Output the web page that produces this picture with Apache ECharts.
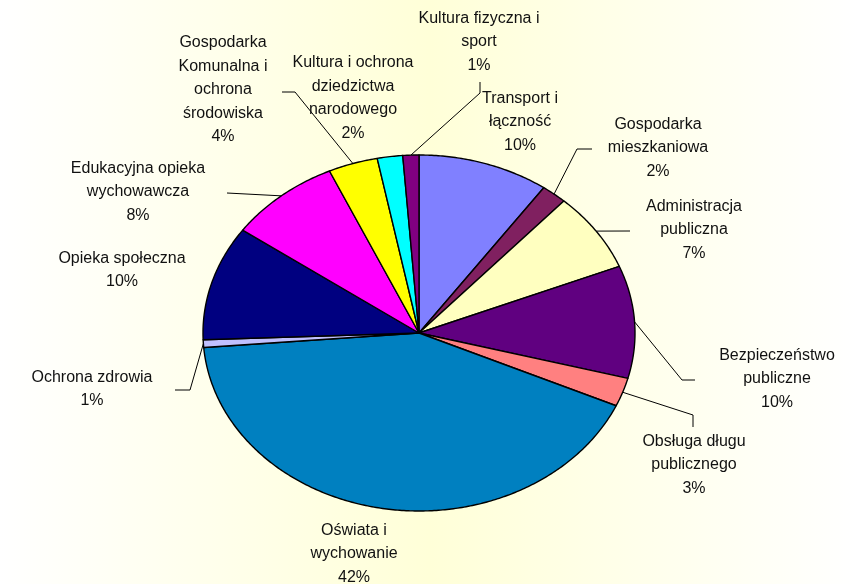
<!DOCTYPE html>
<html>
<head>
<meta charset="utf-8">
<script src="https://cdn.jsdelivr.net/npm/echarts@6/dist/echarts.min.js"></script>
<style>
  html, body { margin: 0; padding: 0; }
  #chart { width: 858px; height: 584px; }
</style>
</head>
<body>
<div id="chart"></div>
<script>
// kategorie wydatków (kolejność jak w wykresie, od godziny 12 zgodnie z ruchem wskazówek)
var categories = [
  'Transport i\nłączność',
  'Gospodarka\nmieszkaniowa',
  'Administracja\npubliczna',
  'Bezpieczeństwo\npubliczne',
  'Obsługa długu\npublicznego',
  'Oświata i\nwychowanie',
  'Ochrona zdrowia',
  'Opieka społeczna',
  'Edukacyjna opieka\nwychowawcza',
  'Gospodarka\nKomunalna i\nochrona\nśrodowiska',
  'Kultura i ochrona\ndziedzictwa\nnarodowego',
  'Kultura fizyczna i\nsport'
];
// udział w %
var values = [9.8, 1.9, 7.2, 10.2, 2.6, 42.0, 0.7, 10.4, 8.4, 3.7, 1.9, 1.2];
var colors = ['#8080FF', '#802060', '#FFFFC0', '#600080', '#FF8080', '#0080C0',
  '#C0C0FF', '#000080', '#FF00FF', '#FFFF00', '#00FFFF', '#800080'];

// układ: środek i półosie elipsy
var CX = 419, CY = 333, RX = 216, RY = 178;
// środki bloków etykiet
var labelPos = [
  [520, 122], [658, 148], [694, 230], [777, 379], [694, 465], [354, 554],
  [92, 389], [122, 270], [138, 192], [223, 90], [353, 98], [479, 42]
];
// załamania linii odniesienia (null = brak linii)
var leaderPts = [
  null, [[577, 149], [592, 149]], [[630, 231]], [[682, 380], [695, 380]],
  [[693, 415], [693, 427]], null, [[190, 390], [175, 390]], null,
  [[227, 193]], [[295, 92], [282, 92]], null, [[480, 93], [480, 82]]
];

var total = values.reduce(function (a, b) { return a + b; }, 0);
var starts = [];
var acc = 0;
values.forEach(function (v) { starts.push(acc); acc += v; });

function pt(theta) {
  return [CX + RX * Math.sin(theta), CY - RY * Math.cos(theta)];
}

var chart = echarts.init(document.getElementById('chart'));

var option = {
  animation: false,
  graphic: [{
    type: 'rect',
    z: -10,
    shape: { x: 0, y: 0, width: 858, height: 584 },
    style: {
      fill: {
        type: 'linear', x: 0, y: 0, x2: 1, y2: 0,
        colorStops: [
          { offset: 0, color: '#FFFFFF' },
          { offset: 0.5, color: '#FFFFD8' },
          { offset: 1, color: '#FFFFFF' }
        ]
      }
    },
    silent: true
  }],
  series: [{
    type: 'custom',
    coordinateSystem: 'none',
    silent: true,
    data: values,
    renderItem: function (params, api) {
      var i = params.dataIndex;
      var v = api.value(0);
      var a0 = starts[i] / total * Math.PI * 2;
      var a1 = (starts[i] + v) / total * Math.PI * 2;
      var pts = [[CX, CY]];
      var n = Math.max(2, Math.ceil((a1 - a0) / 0.01));
      for (var k = 0; k <= n; k++) {
        pts.push(pt(a0 + (a1 - a0) * k / n));
      }
      var children = [{
        type: 'polygon',
        shape: { points: pts },
        style: { fill: colors[i], stroke: '#000', lineWidth: 1.4, lineJoin: 'round' }
      }];
      if (leaderPts[i]) {
        var mid = pt((a0 + a1) / 2);
        children.push({
          type: 'polyline',
          shape: { points: [mid].concat(leaderPts[i]) },
          style: { stroke: '#000', lineWidth: 1, fill: null }
        });
      }
      children.push({
        type: 'text',
        style: {
          text: categories[i] + '\n' + Math.round(v / total * 100) + '%',
          x: labelPos[i][0],
          y: labelPos[i][1],
          align: 'center',
          verticalAlign: 'middle',
          font: '16px "Liberation Sans"',
          lineHeight: 23.5,
          fill: '#111'
        }
      });
      return { type: 'group', children: children };
    }
  }]
};

chart.setOption(option);
</script>
</body>
</html>
